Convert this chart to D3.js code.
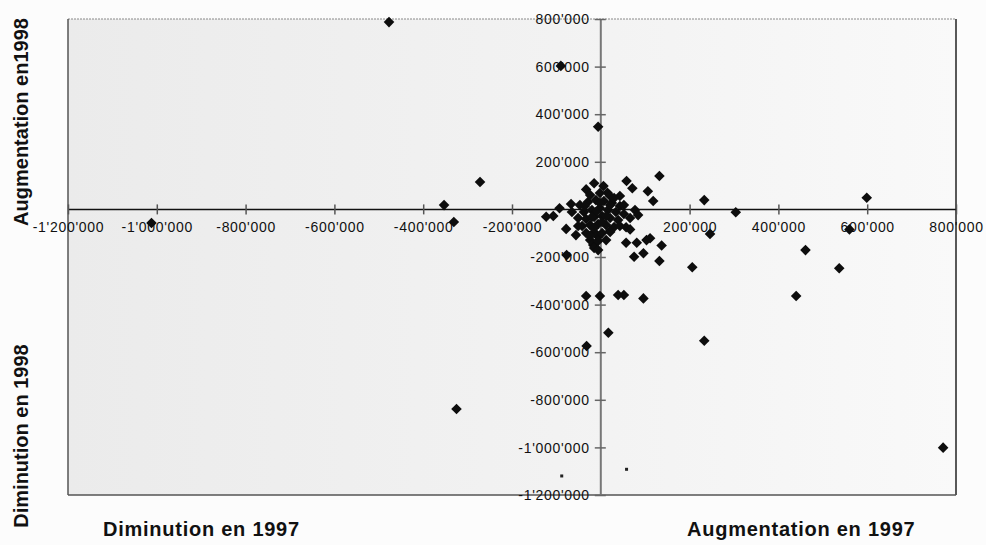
<!DOCTYPE html>
<html>
<head>
<meta charset="utf-8">
<script src="https://cdn.jsdelivr.net/npm/d3@7"></script>
<style>
  html, body { margin: 0; padding: 0; background: #fcfcfc; }
  svg { display: block; font-family: Arial, "Liberation Sans", sans-serif; }
</style>
</head>
<body>
<div id="chart"></div>
<script>
// variations, in thousands: x = 1997, y = 1998
var var1997 = [
  -477, -90, -6, -272, -353, -331, -1012, -325, 771, 599, 233, 304, 560, 461,
  537, 440, 233, 206, 96, 52, 39, -2, -33, 17, -32, 246,
  132, 58, 71, 106, 118, -15, -33, 6, 15, -67, -93, -123, -107, -78, -56, 21,
  57, 66, 77, 84, 57, 81, 103, 111, 137, 75, 96, 132, -77, -17, -6,
  -47, -29, -11, 7, 25, 43, -38, -20, -2, 16, 34, 52, -51, -33, -15, 3, 21,
  39, -42, -24, -6, 12, 30, -33, -15, 3, -24, -6, -15, 3, -11, -65, 66, 43,
  21, -24, -2,
  -36, -2, 21, -20, 12, -51, -15, 21, -24, 12, -6, 43, 52, 30
];
var var1998 = [
  787, 603, 347, 115, 18, -53, -57, -839, -1001, 49, 39, -12, -84, -171,
  -247, -364, -552, -243, -374, -360, -360, -364, -364, -518, -574, -103,
  140, 119, 89, 76, 35, 110, 84, 98, 70, 23, 5, -31, -28, -82, -108, -91,
  -75, -84, -3, -24, -140, -140, -129, -121, -152, -199, -184, -217, -192, -150, -115,
  18, 31, 39, 35, 27, 14, -11, -3, 6, -3, -11, -19, -36, -40, -32, -28, -36,
  -45, -70, -66, -61, -66, -74, -99, -95, -99, -129, -133, -162, -53, -11, -11, -36, 56,
  56, 60, 69,
  14, 27, 18, -32, -28, -70, -78, -95, -112, -129, -171, -70, 18, 48
];
// two faint marks near the bottom edge
var faint1997 = [58, -88];
var faint1998 = [-1092, -1120];

var xTicks = [-1200, -1000, -800, -600, -400, -200, 200, 400, 600, 800];
var yTicks = [800, 600, 400, 200, -200, -400, -600, -800, -1000, -1200];

(function () {
  var W = 986, H = 545;
  var L = 68, R = 956, T = 19, B = 495;

  var fmt = d3.formatLocale({
    decimal: ".", thousands: "'", grouping: [3], currency: ["", ""], minus: "-"
  }).format(",");
  function label(d) { return fmt(d * 1000); }

  var x = d3.scaleLinear().domain([-1200, 800]).range([L, R]);
  var y = d3.scaleLinear().domain([-1200, 800]).range([B, T]);

  var svg = d3.select("#chart").append("svg")
    .attr("width", W).attr("height", H);

  var grad = svg.append("defs").append("linearGradient")
    .attr("id", "paper").attr("x1", 0).attr("x2", 1).attr("y1", 0).attr("y2", 0);
  grad.append("stop").attr("offset", "0%").attr("stop-color", "#ebebeb");
  grad.append("stop").attr("offset", "55%").attr("stop-color", "#f2f2f2");
  grad.append("stop").attr("offset", "100%").attr("stop-color", "#f9f9f9");

  svg.append("rect")
    .attr("x", L).attr("y", T).attr("width", R - L).attr("height", B - T)
    .attr("fill", "url(#paper)");

  // frame: light dotted top, darker other sides
  svg.append("line").attr("x1", L).attr("x2", R).attr("y1", T).attr("y2", T)
    .attr("stroke", "#8a8a8a").attr("stroke-dasharray", "2,1");
  svg.append("line").attr("x1", L).attr("x2", L).attr("y1", T).attr("y2", B)
    .attr("stroke", "#555").attr("stroke-width", 1.5);
  svg.append("line").attr("x1", R).attr("x2", R).attr("y1", T).attr("y2", B)
    .attr("stroke", "#222").attr("stroke-width", 1.5);
  svg.append("line").attr("x1", L).attr("x2", R).attr("y1", B).attr("y2", B)
    .attr("stroke", "#555").attr("stroke-width", 1.5);

  // axes crossing at zero
  var xAxis = svg.append("g")
    .attr("transform", "translate(0," + y(0) + ")")
    .call(d3.axisBottom(x).tickValues(xTicks).tickFormat(label).tickSizeOuter(0));
  xAxis.select(".domain").attr("d", "M" + L + ",0H" + R)
    .attr("stroke", "#111").attr("stroke-width", 1.5);
  xAxis.selectAll(".tick line").attr("y1", -5).attr("y2", 5).attr("stroke", "#555");
  xAxis.selectAll(".tick text").attr("y", 23).attr("dy", 0)
    .attr("font-size", 14).attr("letter-spacing", "0.7px").attr("fill", "#111");

  var yAxis = svg.append("g")
    .attr("transform", "translate(" + x(0) + ",0)")
    .call(d3.axisLeft(y).tickValues(yTicks).tickFormat(label).tickSizeOuter(0));
  yAxis.select(".domain").attr("d", "M0," + T + "V" + B)
    .attr("stroke", "#777").attr("stroke-width", 2);
  yAxis.selectAll(".tick line").attr("x1", -6).attr("x2", 5).attr("stroke", "#666");
  yAxis.selectAll(".tick text").attr("x", -11).attr("dy", "0.34em")
    .attr("font-size", 14).attr("letter-spacing", "0.7px").attr("fill", "#111");
  svg.selectAll(".tick line").attr("stroke-width", 1.5);
  xAxis.attr("font-family", null);
  yAxis.attr("font-family", null);

  var pts = d3.range(var1997.length).map(function (i) {
    return { x: var1997[i], y: var1998[i] };
  });
  var diamond = d3.symbol().type(d3.symbolSquare).size(56);
  svg.append("g").selectAll("path")
    .data(pts).join("path")
    .attr("d", diamond)
    .attr("fill", "#0d0d0d")
    .attr("transform", function (d) {
      return "translate(" + x(d.x) + "," + y(d.y) + ") rotate(45)";
    });

  svg.append("g").selectAll("rect")
    .data(d3.range(faint1997.length)).join("rect")
    .attr("x", function (i) { return x(faint1997[i]) - 1.5; })
    .attr("y", function (i) { return y(faint1998[i]) - 1.5; })
    .attr("width", 3).attr("height", 3)
    .attr("fill", "#222");

  // quadrant titles
  var titleStyle = function (sel) {
    sel.attr("font-size", 20).attr("font-weight", "bold").attr("fill", "#111");
  };
  svg.append("text").attr("x", 103).attr("y", 536)
    .attr("letter-spacing", "0.75px").text("Diminution en 1997").call(titleStyle);
  svg.append("text").attr("x", 687).attr("y", 536)
    .attr("letter-spacing", "0.75px").text("Augmentation en 1997").call(titleStyle);
  svg.append("text")
    .attr("transform", "translate(28,122) rotate(-90)")
    .attr("text-anchor", "middle").text("Augmentation en1998").call(titleStyle);
  svg.append("text")
    .attr("transform", "translate(28,436) rotate(-90)")
    .attr("text-anchor", "middle").text("Diminution en 1998").call(titleStyle);
})();
</script>
</body>
</html>
